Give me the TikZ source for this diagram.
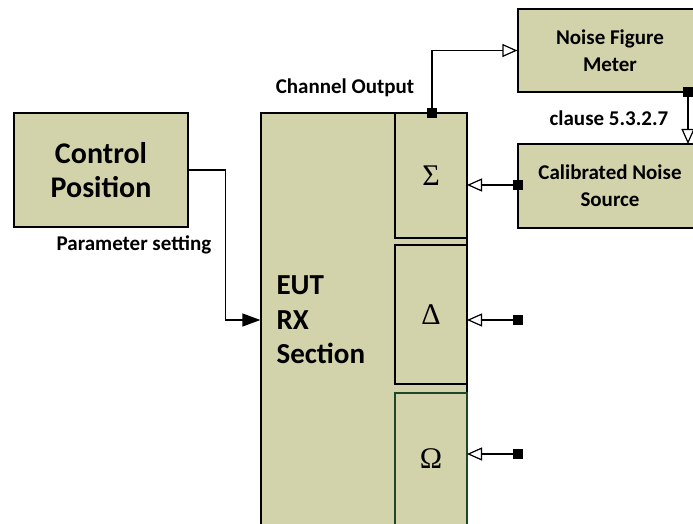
\documentclass[tikz,border=0pt]{standalone}
\usepackage{fontspec}
\setmainfont{Carlito}
\newfontfamily\greekfont{Liberation Serif}
\usetikzlibrary{arrows.meta}

\definecolor{boxfill}{RGB}{211,211,171}
\definecolor{boxgreen}{RGB}{28,72,40}

\tikzset{
	block/.style={draw, line width=1.3pt, fill=boxfill, inner sep=0pt, align=center, font=\bfseries},
	sub/.style={block, minimum width=72pt, font=\greekfont\fontsize{30}{32}\selectfont},
	port/.style={fill=black, inner sep=0pt, minimum size=10pt},
	lbl/.style={font=\bfseries\fontsize{21}{24}\selectfont},
	wire/.style={line width=1.3pt},
	sig/.style={wire, -{Triangle[open, length=15pt, width=13pt, line width=1.2pt]}},
	ctl/.style={wire, -{Triangle[length=18pt, width=13pt]}}
}

\begin{document}
\begin{tikzpicture}[x=1pt, y=-1pt]

	% frame
	\useasboundingbox (0,0) rectangle (693,524);
	\clip (0,0) rectangle (693,524);

	% blocks
	\node[block, minimum width=174pt, minimum height=114pt, font=\bfseries\fontsize{30}{34}\selectfont]
		(ctrl) at (101,170) {Control\\Position};
	\node[block, minimum width=206pt, minimum height=447pt] (eut) at (364,336.5) {};
	\node[block, minimum width=184pt, minimum height=83pt, font=\bfseries\fontsize{21}{27}\selectfont]
		(nfm) at (610,50.5) {Noise Figure\\Meter};
	\node[block, minimum width=184pt, minimum height=84pt, font=\bfseries\fontsize{21}{27}\selectfont]
		(cns) at (610,186) {Calibrated Noise\\Source};

	% sub-channels of the EUT
	\node[sub, minimum height=125pt] (sigma) at (431,175.5) {Σ};
	\node[sub, minimum height=139pt] (delta) at (431,314.5) {Δ};
	\node[sub, minimum height=132pt, draw=boxgreen] (omega) at (431,459) {Ω};

	% EUT label
	\node[anchor=west, align=left, font=\bfseries\fontsize{29}{34.5}\selectfont]
		(eutlbl) at (273,320) {EUT\\RX\\Section};

	% ports
	\coordinate (sout) at (432,113);
	\coordinate (nout) at (688,92);
	\coordinate (cin) at (688,144);
	\coordinate (din) at (518,320);
	\coordinate (oin) at (518,454);
	\coordinate (dend) at (467,320);
	\coordinate (oend) at (467,454);
	\coordinate (send) at (467,185);
	\coordinate (cout) at (518,185);

	% connectors
	\draw[sig] (sout) |- (nfm.west);
	\draw[sig] (nout) -- (cin);
	\draw[sig] (cout) -- (send);
	\draw[sig] (din) -- (dend);
	\draw[sig] (oin) -- (oend);
	\draw[ctl] (ctrl.east) -- ++(37,0) |- (eut.west |- dend);

	% port squares
	\node[port] (sq1) at (sout) {};
	\node[port] (sq2) at (nout) {};
	\node[port] (sq3) at (cout) {};
	\node[port] (sq4) at (din) {};
	\node[port] (sq5) at (oin) {};

	% annotations
	\node[lbl] (chout) at (345,88) {Channel Output};
	\node[lbl] (param) at (134,245) {Parameter setting};
	\node[lbl] (clause) at (609,118) {clause 5.3.2.7};

\end{tikzpicture}
\end{document}
